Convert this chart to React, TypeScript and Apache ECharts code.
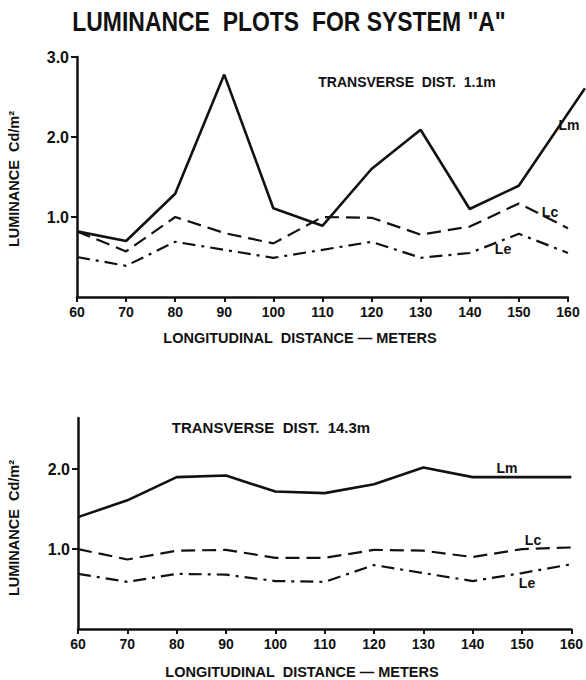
import React, { useEffect, useRef } from "react";
import * as echarts from "echarts";

const distances = [60, 70, 80, 90, 100, 110, 120, 130, 140, 150, 160];

// Upper plot: transverse distance 1.1 m (Lm runs on past the 160 m tick)
const topLmX = [60, 70, 80, 90, 100, 110, 120, 130, 140, 150, 163.5];
const topLm = [0.82, 0.7, 1.29, 2.78, 1.11, 0.89, 1.6, 2.09, 1.1, 1.39, 2.61];
const topLc = [0.82, 0.57, 1.0, 0.8, 0.67, 1.0, 0.99, 0.78, 0.88, 1.17, 0.86];
const topLe = [0.5, 0.39, 0.69, 0.59, 0.49, 0.59, 0.69, 0.49, 0.55, 0.79, 0.55];

// Lower plot: transverse distance 14.3 m
const botLm = [1.4, 1.61, 1.9, 1.92, 1.72, 1.7, 1.81, 2.02, 1.9, 1.9, 1.9];
const botLc = [1.0, 0.87, 0.98, 0.99, 0.89, 0.89, 0.99, 0.98, 0.9, 1.0, 1.02];
const botLe = [0.69, 0.59, 0.69, 0.68, 0.6, 0.59, 0.8, 0.7, 0.6, 0.7, 0.81];

const topYTicks = [1, 2, 3];
const botYTicks = [1, 2];

const FONT = "Liberation Sans";
const INK = "#111";

function pairs(xs: number[], ys: number[]) {
  return xs.map((x, i) => [x, ys[i]]);
}

export default function App() {
  const ref = useRef<HTMLDivElement>(null);
  useEffect(() => {
    if (!ref.current) return;
    const chart = echarts.init(ref.current, null, { renderer: "svg" });

    const xAxisBase = {
      type: "value" as const,
      min: 60,
      max: 160,
      interval: 10,
      splitLine: { show: false },
      axisLine: { show: true, lineStyle: { color: INK, width: 2.5 } },
      axisTick: { show: true, length: 5, inside: false, lineStyle: { color: INK, width: 2 } },
      axisLabel: {
        color: INK,
        fontFamily: FONT,
        fontWeight: "bold" as const,
        fontSize: 14,
        margin: 8,
      },
    };
    const yAxisBase = {
      type: "value" as const,
      min: 0,
      splitLine: { show: false },
      axisLine: { show: true, onZero: false, lineStyle: { color: INK, width: 2.5 } },
      axisLabel: {
        color: INK,
        fontFamily: FONT,
        fontWeight: "bold" as const,
        fontSize: 16,
        margin: 8,
        formatter: (v: number) => v.toFixed(1),
      },
    };

    const solid = { color: INK, width: 2.6, type: "solid" as const };
    const dashed = { color: INK, width: 2.2, type: [14, 7] as any };
    const dashDot = { color: INK, width: 2.2, type: [13, 6, 3, 6] as any };

    const lineSeries = (xi: number, data: number[][], style: any) => ({
      type: "line" as const,
      xAxisIndex: xi,
      yAxisIndex: xi,
      data,
      symbol: "none",
      clip: false,
      lineStyle: style,
      z: 3,
    });

    const txt = (text: string, x: number, y: number, size: number, extra: any = {}, weight = "bold") => ({
      type: "text" as const,
      x,
      y,
      style: {
        text,
        fill: INK,
        font: `${weight} ${size}px "${FONT}"`,
        textAlign: "center",
        textVerticalAlign: "middle",
      },
      ...extra,
    });

    chart.setOption({
      animation: false,
      backgroundColor: "#fff",
      grid: [
        { left: 77, top: 57, width: 491, height: 240, containLabel: false },
        { left: 78, top: 418, width: 494, height: 211, containLabel: false },
        // same scale as the upper plot, extended to x = 163.5 for the Lm run-out
        { left: 77, top: 57, width: 508, height: 240, containLabel: false },
      ],
      xAxis: [
        { ...xAxisBase, gridIndex: 0 },
        { ...xAxisBase, gridIndex: 1 },
        { type: "value", gridIndex: 2, min: 60, max: 163.5, show: false },
      ],
      yAxis: [
        {
          ...yAxisBase,
          gridIndex: 0,
          max: 3,
          axisTick: { show: true, length: 6, customValues: topYTicks, lineStyle: { color: INK, width: 2 } },
          axisLabel: { ...yAxisBase.axisLabel, customValues: topYTicks },
        },
        {
          ...yAxisBase,
          gridIndex: 1,
          max: 2.64,
          axisTick: { show: true, length: 6, customValues: botYTicks, lineStyle: { color: INK, width: 2 } },
          axisLabel: { ...yAxisBase.axisLabel, customValues: botYTicks },
        },
        { type: "value", gridIndex: 2, min: 0, max: 3, show: false },
      ],
      series: [
        lineSeries(2, pairs(topLmX, topLm), solid),
        lineSeries(0, pairs(distances, topLc), dashed),
        lineSeries(0, pairs(distances, topLe), dashDot),
        lineSeries(1, pairs(distances, botLm), solid),
        lineSeries(1, pairs(distances, botLc), dashed),
        lineSeries(1, pairs(distances, botLe), dashDot),
      ],
      graphic: [
        txt('LUMINANCE  PLOTS  FOR SYSTEM "A"', 289, 21, 27, { scaleX: 0.85 }),
        txt("TRANSVERSE  DIST.  1.1m", 407, 82, 14),
        txt("Lm", 569, 125, 14),
        txt("Lc", 550, 212, 14),
        txt("Le", 503, 249, 14),
        txt("LONGITUDINAL  DISTANCE — METERS", 300, 338, 14.5),
        txt("LUMINANCE  Cd/m²", 14, 179, 14.5, { rotation: Math.PI / 2 }),
        txt("TRANSVERSE  DIST.  14.3m", 271, 427, 15),
        txt("Lm", 507, 468, 14),
        txt("Lc", 533, 540, 14),
        txt("Le", 527, 583, 14),
        txt("LONGITUDINAL  DISTANCE — METERS", 302, 672, 14.5),
        txt("LUMINANCE  Cd/m²", 14, 528, 14.5, { rotation: Math.PI / 2 }),
      ],
    });
    return () => chart.dispose();
  }, []);
  return (
    <div
      ref={ref}
      style={{ position: "fixed", left: 0, top: 0, width: 586, height: 680, background: "#fff" }}
    />
  );
}
